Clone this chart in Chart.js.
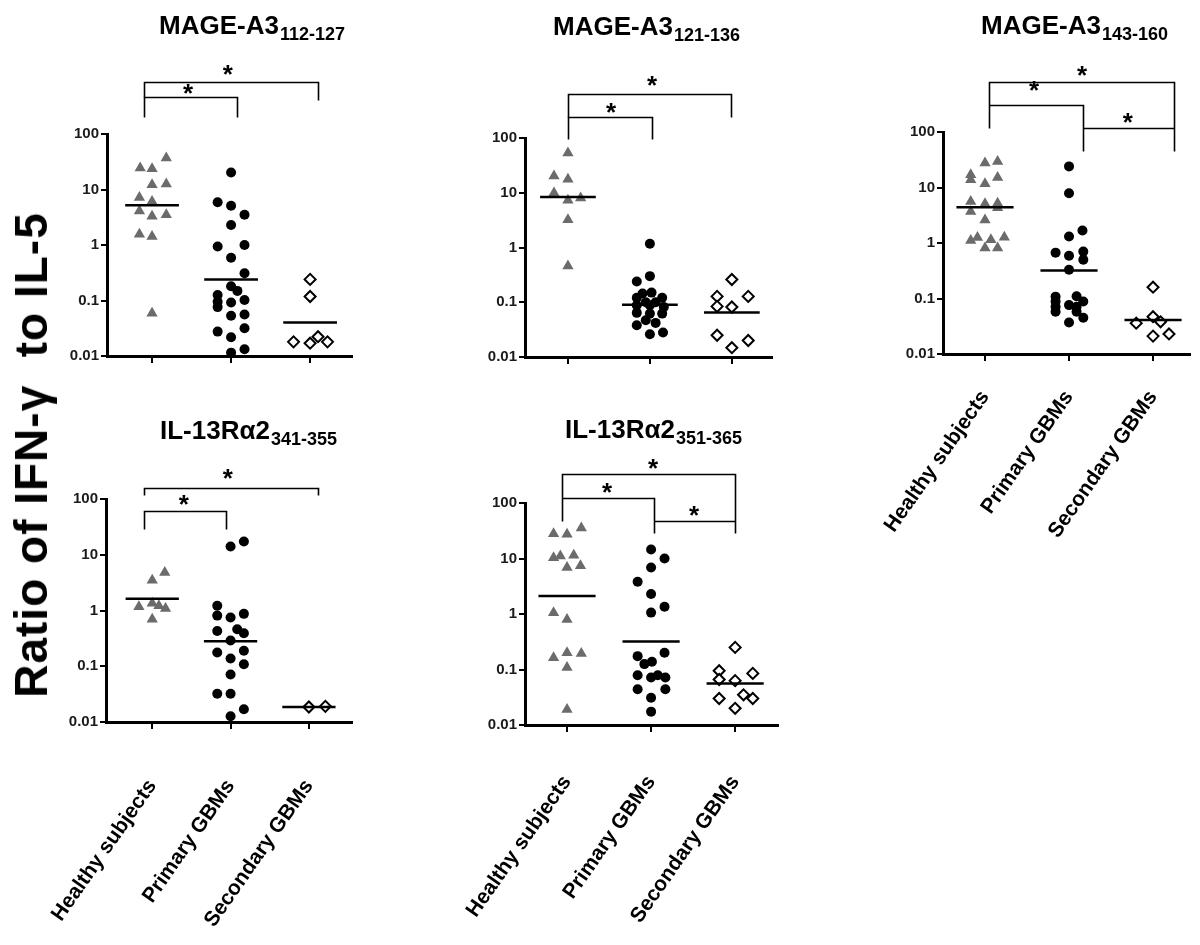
<!DOCTYPE html>
<html>
<head>
<meta charset="utf-8">
<script src="https://cdn.jsdelivr.net/npm/chart.js@4"></script>
<style>
  body { margin: 0; background: #fff; width: 1200px; height: 945px; position: relative; overflow: hidden; }
  canvas { position: absolute; }
  #ylab {
    position: absolute; left: 31px; top: 455px;
    transform: translate(-50%, -50%) rotate(-90deg);
    font: bold 46px "Liberation Sans", Arial, sans-serif;
    letter-spacing: 1px;
    white-space: nowrap; color: #000;
  }
</style>
</head>
<body>
<canvas id="p1"></canvas>
<canvas id="p2"></canvas>
<canvas id="p3"></canvas>
<canvas id="p4"></canvas>
<canvas id="p5"></canvas>
<div id="ylab">Ratio of IFN-γ&nbsp; to IL-5</div>

<script>
const FONT = '"Liberation Sans", Arial, sans-serif';

const groups = ["Healthy subjects", "Primary GBMs", "Secondary GBMs"];
const yTicks = [0.01, 0.1, 1, 10, 100];

// MAGE-A3 112-127
const p1Healthy = [36.9, 24.3, 23.7, 12.2, 12.5, 7.2, 6.1, 4.1, 3.3, 3.5, 1.57, 1.42, 0.059];
const p1HealthyX = [0.18, -0.15, 0, 0, 0.18, -0.16, 0, -0.16, 0, 0.18, -0.16, 0, 0];
const p1Primary = [20.3, 5.9, 5.1, 3.5, 2.3, 0.94, 1.0, 0.59, 0.31, 0.18, 0.149, 0.126, 0.095, 0.076, 0.092, 0.102, 0.053, 0.056, 0.0275, 0.0316, 0.0217, 0.0115, 0.0132];
const p1PrimaryX = [0, -0.17, 0, 0.17, 0, -0.17, 0.17, 0, 0.17, 0, 0.08, -0.17, -0.17, -0.17, 0, 0.17, 0, 0.17, -0.17, 0.17, 0, 0, 0.17];
const p1Secondary = [0.24, 0.118, 0.018, 0.017, 0.0223, 0.018];
const p1SecondaryX = [0, 0, -0.21, 0, 0.1, 0.22];
const p1Median = [5.2, 0.24, 0.040];

// MAGE-A3 121-136
const p2Healthy = [53, 20.2, 17.6, 9.9, 7.3, 8.0, 3.2, 0.46];
const p2HealthyX = [0, -0.17, 0, -0.17, 0, 0.155, 0, 0];
const p2Primary = [1.17, 0.24, 0.30, 0.144, 0.15, 0.121, 0.121, 0.1, 0.1, 0.088, 0.088, 0.082, 0.064, 0.062, 0.062, 0.047, 0.042, 0.038, 0.026, 0.028];
const p2PrimaryX = [0, -0.16, 0, -0.09, 0.02, -0.16, 0.15, -0.05, 0.07, -0.16, 0, 0.17, -0.16, 0, 0.15, -0.05, 0.07, -0.16, 0, 0.16];
const p2Secondary = [0.26, 0.128, 0.128, 0.084, 0.082, 0.025, 0.020, 0.0148];
const p2SecondaryX = [0, -0.18, 0.2, -0.18, 0, -0.18, 0.2, 0];
const p2Median = [8.4, 0.09, 0.065];

// MAGE-A3 143-160
const p3Healthy = [27.5, 29.5, 17, 13.8, 11.7, 15.1, 5.6, 5.1, 5.2, 3.7, 4.3, 2.6, 1.11, 1.26, 1.14, 1.27, 0.81, 0.81];
const p3HealthyX = [0, 0.15, -0.17, -0.17, 0, 0.15, -0.17, 0, 0.15, -0.17, 0.15, 0, -0.17, -0.09, 0.07, 0.23, 0, 0.15];
const p3Primary = [24, 7.9, 1.68, 1.31, 0.67, 0.59, 0.70, 0.50, 0.33, 0.108, 0.11, 0.088, 0.088, 0.071, 0.076, 0.071, 0.058, 0.058, 0.045, 0.037];
const p3PrimaryX = [0, 0, 0.16, 0, -0.16, 0, 0.17, 0.17, 0, -0.16, 0.09, -0.16, 0.17, -0.16, 0, 0.09, -0.16, 0.09, 0.17, 0];
const p3Secondary = [0.16, 0.047, 0.036, 0.038, 0.021, 0.023];
const p3SecondaryX = [0, 0, -0.2, 0.09, 0, 0.19];
const p3Median = [4.4, 0.32, 0.041];

// IL-13Ra2 341-355
const p4Healthy = [4.8, 3.5, 1.17, 1.35, 1.22, 1.09, 0.70];
const p4HealthyX = [0.16, 0, -0.17, 0, 0.085, 0.17, 0];
const p4Primary = [14.1, 17.3, 1.22, 0.81, 0.75, 0.87, 0.43, 0.46, 0.39, 0.29, 0.177, 0.19, 0.138, 0.109, 0.071, 0.032, 0.032, 0.0169, 0.0127];
const p4PrimaryX = [0, 0.17, -0.17, -0.17, 0, 0.17, -0.17, 0.085, 0.17, 0, -0.17, 0.17, 0, 0.17, 0, -0.17, 0, 0.17, 0];
const p4Secondary = [0.0186, 0.0191];
const p4SecondaryX = [0, 0.21];
const p4Median = [1.63, 0.28, 0.0186];

// IL-13Ra2 351-365
const p5Healthy = [28, 27.3, 35.5, 10.3, 11.1, 11.4, 6.9, 7.4, 1.05, 0.80, 0.163, 0.20, 0.195, 0.109, 0.019];
const p5HealthyX = [-0.16, 0, 0.17, -0.16, -0.08, 0.08, 0, 0.16, -0.16, 0, -0.16, 0, 0.17, 0, 0];
const p5Primary = [14.5, 10, 6.9, 3.8, 2.3, 1.35, 1.06, 0.174, 0.20, 0.125, 0.138, 0.079, 0.072, 0.079, 0.072, 0.044, 0.044, 0.031, 0.0174];
const p5PrimaryX = [0, 0.16, 0, -0.16, 0, 0.16, 0, -0.16, 0.16, -0.08, 0.01, -0.16, 0, 0.08, 0.17, -0.16, 0.17, 0, 0];
const p5Secondary = [0.25, 0.095, 0.085, 0.066, 0.063, 0.035, 0.030, 0.030, 0.020];
const p5SecondaryX = [0, -0.19, 0.21, -0.19, 0, 0.1, -0.19, 0.21, 0];
const p5Median = [2.1, 0.32, 0.056];


// marker look per group: triangle, filled circle, open diamond
const markers = [
    { pointStyle: "triangle", radius: 6.5, bg: "#6b6b6b", border: "#6b6b6b", bw: 0 },
    { pointStyle: "circle", radius: 5, bg: "#000", border: "#000", bw: 0 },
    { pointStyle: "rectRot", radius: 5.5, bg: "#fff", border: "#000", bw: 2 }
];

const panels = [
    {
        id: "p1", left: 0, top: 0, w: 380, h: 370,
        yW: 107, padTop: 134, padRight: 28, xH: 14, xMin: 0.43, xMax: 3.53, labels: false,
        title: ["MAGE-A3", "112-127", 159, 34],
        series: [[p1Healthy, p1HealthyX], [p1Primary, p1PrimaryX], [p1Secondary, p1SecondaryX]],
        medians: p1Median,
        brackets: [
            [[0.898, -17], [0.898, -37], [2.08, -37], [2.08, -17]],
            [[0.898, -37], [0.898, -52], [3.10, -52], [3.10, -34]]
        ],
        stars: [[1.455, -46], [1.96, -65]]
    },
    {
        id: "p2", left: 400, top: 0, w: 400, h: 370,
        yW: 125, padTop: 138, padRight: 28, xH: 13, xMin: 0.476, xMax: 3.49, labels: false,
        title: ["MAGE-A3", "121-136", 553, 35],
        series: [[p2Healthy, p2HealthyX], [p2Primary, p2PrimaryX], [p2Secondary, p2SecondaryX]],
        medians: p2Median,
        brackets: [
            [[1.0, 1], [1.0, -21], [2.02, -21], [2.02, 1]],
            [[1.0, -21], [1.0, -44], [2.99, -44], [2.99, -21]]
        ],
        stars: [[1.525, -31], [2.025, -58]]
    },
    {
        id: "p3", left: 800, top: 0, w: 400, h: 560,
        yW: 143, padTop: 132, padRight: 10, xH: 206, xMin: 0.5, xMax: 3.44, labels: true, labelPad: 25,
        title: ["MAGE-A3", "143-160", 981, 34],
        series: [[p3Healthy, p3HealthyX], [p3Primary, p3PrimaryX], [p3Secondary, p3SecondaryX]],
        medians: p3Median,
        brackets: [
            [[1.05, -4], [1.05, -50], [3.25, -50], [3.25, 19]],
            [[1.05, -27], [2.17, -27], [2.17, 19]],
            [[2.17, -4], [3.25, -4]]
        ],
        stars: [[2.155, -62], [1.583, -47], [2.70, -15]]
    },
    {
        id: "p4", left: 0, top: 420, w: 380, h: 525,
        yW: 106, padTop: 79, padRight: 28, xH: 223, xMin: 0.41, xMax: 3.55, labels: true, labelPad: 46,
        title: ["IL-13Rα2", "341-355", 160, 439],
        series: [[p4Healthy, p4HealthyX], [p4Primary, p4PrimaryX], [p4Secondary, p4SecondaryX]],
        medians: p4Median,
        brackets: [
            [[0.894, 30], [0.894, 12], [1.94, 12], [1.94, 30]],
            [[0.894, -4], [0.894, -11], [3.11, -11], [3.11, -4]]
        ],
        stars: [[1.404, 0], [1.964, -26]]
    },
    {
        id: "p5", left: 400, top: 420, w: 400, h: 525,
        yW: 125, padTop: 83, padRight: 22, xH: 220, xMin: 0.5, xMax: 3.51, labels: true, labelPad: 39,
        title: ["IL-13Rα2", "351-365", 565, 438],
        series: [[p5Healthy, p5HealthyX], [p5Primary, p5PrimaryX], [p5Secondary, p5SecondaryX]],
        medians: p5Median,
        brackets: [
            [[0.94, 18], [0.94, -29], [3.0, -29], [3.0, 30]],
            [[0.94, -5], [2.04, -5], [2.04, 30]],
            [[2.04, 18], [3.0, 18]]
        ],
        stars: [[2.024, -40], [1.476, -16], [2.51, 7]]
    }
];


function makePanel(p) {

    const el = document.getElementById(p.id);
    el.width = p.w;
    el.height = p.h;
    el.style.left = p.left + "px";
    el.style.top = p.top + "px";

    const datasets = [];
    p.series.forEach(([vals, jit], g) => {
        const m = markers[g];
        datasets.push({
            type: "scatter",
            data: vals.map((v, i) => ({ x: g + 1 + jit[i], y: v })),
            pointStyle: m.pointStyle,
            pointRadius: m.radius,
            backgroundColor: m.bg,
            borderColor: m.border,
            borderWidth: m.bw,
            clip: false,
            order: 2
        });
        // median bar
        datasets.push({
            type: "line",
            data: [{ x: g + 1 - 0.34, y: p.medians[g] }, { x: g + 1 + 0.34, y: p.medians[g] }],
            borderColor: "#000",
            borderWidth: 2.5,
            pointRadius: 0,
            clip: false,
            order: 1
        });
    });

    // titles, significance brackets and stars
    const deco = {
        id: "deco" + p.id,
        afterDraw(chart) {
            const ctx = chart.ctx;
            const xs = chart.scales.x;
            const top = chart.chartArea.top;
            ctx.save();
            ctx.fillStyle = "#000";
            ctx.textBaseline = "alphabetic";
            ctx.textAlign = "left";

            const [main, sub, tx, ty] = p.title;
            ctx.font = "bold 26px " + FONT;
            ctx.fillText(main, tx - p.left, ty - p.top);
            const w = ctx.measureText(main).width;
            ctx.font = "bold 18px " + FONT;
            ctx.fillText(sub, tx - p.left + w + 1, ty - p.top + 6);

            ctx.strokeStyle = "#000";
            ctx.lineWidth = 1.6;
            p.brackets.forEach(line => {
                ctx.beginPath();
                line.forEach(([x, dy], i) => {
                    const px = Math.round(xs.getPixelForValue(x)) + 0.5;
                    const py = Math.round(top + dy) + 0.5;
                    if (i) ctx.lineTo(px, py); else ctx.moveTo(px, py);
                });
                ctx.stroke();
            });

            ctx.font = "bold 26px " + FONT;
            ctx.textAlign = "center";
            p.stars.forEach(([x, dy]) => {
                ctx.fillText("*", xs.getPixelForValue(x), top + dy + 14);
            });
            ctx.restore();
        }
    };

    new Chart(el, {
        type: "scatter",
        data: { datasets: datasets },
        plugins: [deco],
        options: {
            responsive: false,
            animation: false,
            layout: { padding: { top: p.padTop, right: p.padRight, left: 0, bottom: 0 } },
            plugins: {
                legend: { display: false },
                tooltip: { enabled: false }
            },
            scales: {
                x: {
                    type: "linear",
                    min: p.xMin,
                    max: p.xMax,
                    afterBuildTicks: (s) => { s.ticks = [1, 2, 3].map(v => ({ value: v })); },
                    afterFit: (s) => { s.height = p.xH; s.paddingLeft = 0; s.paddingRight = 0; },
                    border: { display: true, color: "#000", width: 3 },
                    grid: { drawOnChartArea: false, color: "#000", lineWidth: 2, tickLength: 7 },
                    ticks: {
                        display: p.labels,
                        autoSkip: false,
                        minRotation: 55,
                        maxRotation: 55,
                        padding: p.labelPad || 0,
                        color: "#000",
                        font: { family: FONT, size: 21, weight: "bold" },
                        callback: (v) => groups[v - 1]
                    }
                },
                y: {
                    type: "logarithmic",
                    min: 0.01,
                    max: 100,
                    afterBuildTicks: (s) => { s.ticks = yTicks.map(v => ({ value: v })); },
                    afterFit: (s) => { s.width = p.yW; s.paddingTop = 0; s.paddingBottom = 0; },
                    border: { display: true, color: "#000", width: 3 },
                    grid: { drawOnChartArea: false, color: "#000", lineWidth: 2, tickLength: 6 },
                    ticks: {
                        padding: 2,
                        color: "#1a1a1a",
                        font: { family: FONT, size: 15, weight: "bold" },
                        callback: (v) => String(v)
                    }
                }
            }
        }
    });
}

panels.forEach(makePanel);
</script>
</body>
</html>
